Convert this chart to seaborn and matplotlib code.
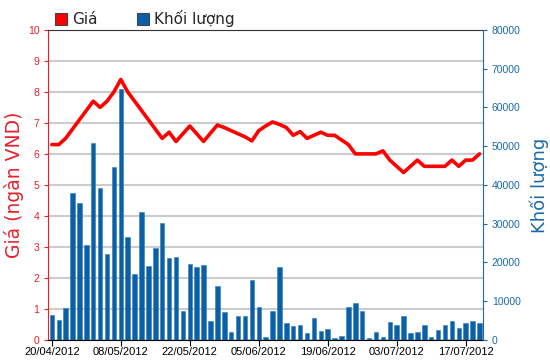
import numpy as np
import pandas as pd
import seaborn as sns
import matplotlib.pyplot as plt
from matplotlib.patches import Patch

# gia (ngan VND) per phien
price = [6.3, 6.3, 6.5, 6.8, 7.1, 7.4, 7.7, 7.5, 7.7, 8.0,
         8.4, 8.0, 7.7, 7.4, 7.1, 6.8, 6.5, 6.7, 6.4, 6.65,
         6.9, 6.65, 6.4, 6.67, 6.93, 6.85, 6.75, 6.65, 6.55, 6.42,
         6.75, 6.9, 7.03, 6.95, 6.85, 6.6, 6.72, 6.5, 6.6, 6.7,
         6.6, 6.6, 6.45, 6.3, 6.0, 6.0, 6.0, 6.0, 6.1, 5.8,
         5.6, 5.4, 5.6, 5.8, 5.6, 5.6, 5.6, 5.6, 5.8, 5.6,
         5.8, 5.8, 6.0]

# khoi luong
volume = [6450, 5160, 8340, 37840, 35260, 24420, 50740, 39200, 22270, 44630,
          64760, 26660, 17110, 33110, 19000, 23820, 30270, 21240, 21500, 7480,
          19700, 18750, 19260, 4900, 13930, 7140, 2060, 6190, 6190, 15390,
          8430, 860, 7480, 18750, 4300, 3610, 3960, 1720, 5590, 2410,
          2750, 520, 1120, 8430, 9460, 7480, 520, 2060, 770, 4560,
          3870, 6190, 1720, 2060, 3960, 860, 2670, 3960, 4990, 3100,
          4300, 4990, 4300]

dates = pd.bdate_range('2012-04-20', periods=len(price), freq='C',
                       holidays=['2012-04-30', '2012-05-01'])
df = pd.DataFrame({'idx': np.arange(len(price)), 'price': price, 'volume': volume})

red = '#ff0000'
lab_red = '#e8202a'
blue = '#0b5fa5'
lab_blue = '#1a6aa6'

sns.set_style('white')
plt.rcParams['font.family'] = ['Liberation Sans', 'DejaVu Sans']

fig, ax = plt.subplots(figsize=(5.5, 3.64), dpi=100)
fig.subplots_adjust(left=0.088, right=0.878, top=0.918, bottom=0.066)

ax2 = ax.twinx()   # volume bars
ax3 = ax.twinx()   # price line on top

sns.barplot(data=df, x='idx', y='volume', ax=ax2, color=blue, saturation=1,
            width=0.65, edgecolor='#2f7fc0', linewidth=0.4)
sns.lineplot(data=df, x='idx', y='price', ax=ax3, color=red, lw=2.6)

ax.set_ylim(0, 10)
ax2.set_ylim(0, 80000)
ax3.set_ylim(0, 10)
ax.set_xlim(-0.5, len(price) - 0.5)

# grid on the back axes
ax.set_yticks(range(0, 11))
ax.grid(axis='y', color='#cccccc', lw=1.5)
ax.grid(axis='x', visible=False)
ax.tick_params(axis='y', colors=lab_red, labelsize=7.5, length=3, direction='out', left=True)
ax.set_ylabel('Giá (ngàn VND)', color=lab_red, fontsize=13.5, family='DejaVu Sans', labelpad=3)

ticks = list(range(0, len(price), 10))
ax.set_xticks(ticks)
ax.set_xticklabels([dates[i].strftime('%d/%m/%Y') for i in ticks], fontsize=8)
ax.tick_params(axis='x', length=4, direction='out', bottom=True, pad=1, colors='black')
ax.set_xlabel('')

ax2.set_yticks(range(0, 80001, 10000))
ax2.tick_params(axis='y', colors=lab_blue, labelsize=7.5, length=3, direction='out', right=True)
ax2.set_ylabel('Khối lượng', color=lab_blue, fontsize=13, family='DejaVu Sans', labelpad=6)
ax2.set_xlabel('')

ax3.set_axis_off()

for s in ['left', 'right', 'top', 'bottom']:
    for a in (ax, ax2):
        a.spines[s].set_visible(False)
ax.spines['left'].set_visible(True)
ax.spines['left'].set_color(lab_red)
ax.spines['bottom'].set_visible(True)
ax.spines['bottom'].set_color('black')
ax.spines['top'].set_visible(True)
ax.spines['top'].set_color('#333333')
ax2.spines['right'].set_visible(True)
ax2.spines['right'].set_color(lab_blue)

handles = [Patch(facecolor=red, edgecolor='#444444', lw=0.8),
           Patch(facecolor=blue, edgecolor='#444444', lw=0.8)]
fig.legend(handles, ['Giá', 'Khối lượng'], loc='upper left', bbox_to_anchor=(0.075, 1.01),
           ncol=2, frameon=False, handlelength=0.8, handleheight=0.8,
           handletextpad=0.3, columnspacing=2.6, prop={'family': 'DejaVu Sans', 'size': 11})

plt.savefig('out.png', dpi=100)
